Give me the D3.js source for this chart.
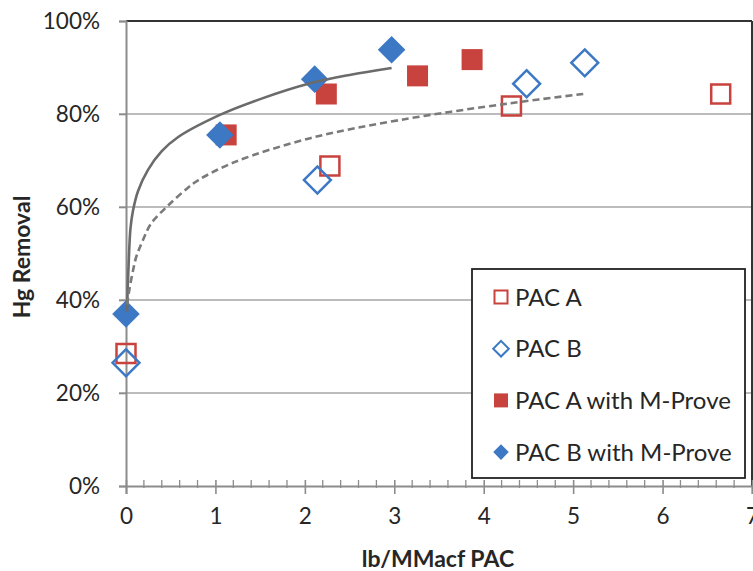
<!DOCTYPE html>
<meta charset="utf-8">
<style>
  body { margin: 0; background: #fff; }
  text { font-family: Lato, "Open Sans", sans-serif; fill: #262626; }
</style>
<body>
<script src="https://cdnjs.cloudflare.com/ajax/libs/d3/7.8.5/d3.min.js"></script>
<script>

// data (x in lb/MMacf, y as fraction removed)
var pacA_x = [0, 2.28, 4.31, 6.65];
var pacA_y = [0.285, 0.688, 0.817, 0.843];

var pacB_x = [0, 2.14, 4.48, 5.13];
var pacB_y = [0.265, 0.658, 0.865, 0.91];

var pacAM_x = [1.12, 2.24, 3.26, 3.87];
var pacAM_y = [0.755, 0.843, 0.882, 0.917];

var pacBM_x = [0, 1.05, 2.11, 2.97];
var pacBM_y = [0.37, 0.755, 0.875, 0.938];

// trend lines, points
var trendSolid_x = [0.012, 0.02, 0.032, 0.05, 0.078, 0.134, 0.246, 0.4, 0.58, 1.05, 1.5, 2.06, 2.5, 2.97];
var trendSolid_y = [0.375, 0.43, 0.49, 0.554, 0.592, 0.634, 0.68, 0.72, 0.75, 0.798, 0.832, 0.866, 0.884, 0.899];

var trendDash_x = [0.016, 0.02, 0.04, 0.078, 0.115, 0.19, 0.283, 0.47, 0.69, 0.81, 1.22, 2.06, 3.06, 4.29, 5.15];
var trendDash_y = [0.39, 0.40, 0.425, 0.463, 0.493, 0.529, 0.565, 0.603, 0.641, 0.658, 0.697, 0.748, 0.787, 0.823, 0.844];

var xTicks = [0, 1, 2, 3, 4, 5, 6, 7];
var yTicks = [0, 0.2, 0.4, 0.6, 0.8, 1.0];
var legendLabels = ["PAC A", "PAC B", "PAC A with M-Prove", "PAC B with M-Prove"];

var red = "#c8423e", blue = "#3c78c4";

var W = 753, H = 571;
var margin = {top: 21, right: 1, bottom: 85, left: 126};
var width = W - margin.left - margin.right,
    height = H - margin.top - margin.bottom;

var x = d3.scaleLinear().domain([0, 7]).range([0, width]);
var y = d3.scaleLinear().domain([0, 1]).range([height, 0]);

var svg = d3.select("body").append("svg")
  .attr("width", W)
  .attr("height", H);
var g = svg.append("g")
  .attr("transform", "translate(" + margin.left + "," + margin.top + ")");

// gridlines
g.selectAll(".grid")
  .data(yTicks.filter(function(d) { return d > 0 && d < 1; }))
  .enter().append("line")
  .attr("x1", -7).attr("x2", width)
  .attr("y1", function(d) { return y(d); })
  .attr("y2", function(d) { return y(d); })
  .attr("stroke", "#a6a6a6").attr("stroke-width", 1.6);

// frame top + right (dark)
g.append("line").attr("x1", 0).attr("x2", width).attr("y1", 0).attr("y2", 0)
  .attr("stroke", "#333").attr("stroke-width", 2);
g.append("line").attr("x1", width).attr("x2", width).attr("y1", 0).attr("y2", height)
  .attr("stroke", "#333").attr("stroke-width", 2);

// y axis
var yAxis = g.append("g")
  .call(d3.axisLeft(y).tickValues(yTicks).tickFormat(d3.format(".0%")).tickSize(7).tickPadding(19));
yAxis.select(".domain").attr("stroke", "#8c8c8c").attr("stroke-width", 2);
yAxis.selectAll(".tick line").attr("stroke", "#8c8c8c").attr("stroke-width", 1.6);
yAxis.selectAll("text").style("font-size", "22.5px").attr("fill", "#2e2e2e");

// x axis with minor ticks
var xAxisG = g.append("g").attr("transform", "translate(0," + height + ")");
var minor = d3.range(0, 70).map(function(i) { return i / 10 * 2; }).filter(function(d) { return d <= 7 && Math.round(d * 10) % 10 !== 0; });
xAxisG.selectAll(".minor")
  .data(minor)
  .enter().append("line")
  .attr("x1", function(d) { return x(d); }).attr("x2", function(d) { return x(d); })
  .attr("y1", -6).attr("y2", 2)
  .attr("stroke", "#8c8c8c").attr("stroke-width", 1.3);
xAxisG.call(d3.axisBottom(x).tickValues(xTicks).tickFormat(d3.format("d")).tickSize(8).tickPadding(14));
xAxisG.select(".domain").attr("stroke", "#8c8c8c").attr("stroke-width", 2);
xAxisG.selectAll(".tick line").attr("stroke", "#8c8c8c").attr("stroke-width", 1.6).attr("y1", -6);
xAxisG.selectAll("text").style("font-size", "22.5px").attr("fill", "#2e2e2e");

// axis titles
svg.append("text")
  .attr("x", 438).attr("y", 567)
  .attr("text-anchor", "middle")
  .style("font-size", "23px").style("font-weight", "bold")
  .text("lb/MMacf PAC");
svg.append("text")
  .attr("transform", "translate(30,257) rotate(-90)")
  .attr("text-anchor", "middle")
  .style("font-size", "23px").style("font-weight", "bold")
  .text("Hg Removal");

function zip(xs, ys) { return xs.map(function(v, i) { return [v, ys[i]]; }); }

var sq = d3.symbol().type(d3.symbolSquare);

// open squares (PAC A)
g.selectAll(".pacA").data(zip(pacA_x, pacA_y)).enter().append("path")
  .attr("d", sq.size(19 * 19))
  .attr("transform", function(d) { return "translate(" + x(d[0]) + "," + y(d[1]) + ")"; })
  .attr("fill", "none").attr("stroke", red).attr("stroke-width", 2.5);

// open diamonds (PAC B)
g.selectAll(".pacB").data(zip(pacB_x, pacB_y)).enter().append("path")
  .attr("d", sq.size(19 * 19))
  .attr("transform", function(d) { return "translate(" + x(d[0]) + "," + y(d[1]) + ") rotate(45)"; })
  .attr("fill", "none").attr("stroke", blue).attr("stroke-width", 2.5);

// filled squares (PAC A with M-Prove)
g.selectAll(".pacAM").data(zip(pacAM_x, pacAM_y)).enter().append("path")
  .attr("d", sq.size(21 * 21))
  .attr("transform", function(d) { return "translate(" + x(d[0]) + "," + y(d[1]) + ")"; })
  .attr("fill", red);

// filled diamonds (PAC B with M-Prove)
g.selectAll(".pacBM").data(zip(pacBM_x, pacBM_y)).enter().append("path")
  .attr("d", sq.size(19.5 * 19.5))
  .attr("transform", function(d) { return "translate(" + x(d[0]) + "," + y(d[1]) + ") rotate(45)"; })
  .attr("fill", blue);

// trend lines
var line = d3.line()
  .x(function(d) { return x(d[0]); })
  .y(function(d) { return y(d[1]); })
  .curve(d3.curveCatmullRom.alpha(0.5));

g.append("path").datum(zip(trendSolid_x, trendSolid_y))
  .attr("d", line).attr("fill", "none")
  .attr("stroke", "#6b6b6b").attr("stroke-width", 2.6);
g.append("path").datum(zip(trendDash_x, trendDash_y))
  .attr("d", line).attr("fill", "none")
  .attr("stroke", "#7a7a7a").attr("stroke-width", 2.6)
  .attr("stroke-dasharray", "7,4");

// legend
var lg = svg.append("g").attr("transform", "translate(472,269)");
lg.append("rect").attr("width", 273).attr("height", 209)
  .attr("fill", "#fff").attr("stroke", "#222").attr("stroke-width", 1.8);

var legendMarks = [
  {d: sq.size(13 * 13)(), rot: 0, fill: "none", stroke: red},
  {d: sq.size(11 * 11)(), rot: 45, fill: "none", stroke: blue},
  {d: sq.size(14 * 14)(), rot: 0, fill: red, stroke: "none"},
  {d: sq.size(11 * 11)(), rot: 45, fill: blue, stroke: "none"}
];
var rows = lg.selectAll(".row").data(legendLabels).enter().append("g")
  .attr("transform", function(d, i) { return "translate(0," + (28 + i * 51.7) + ")"; });
rows.append("path")
  .attr("d", function(d, i) { return legendMarks[i].d; })
  .attr("transform", function(d, i) { return "translate(29,0) rotate(" + legendMarks[i].rot + ")"; })
  .attr("fill", function(d, i) { return legendMarks[i].fill; })
  .attr("stroke", function(d, i) { return legendMarks[i].stroke; })
  .attr("stroke-width", 2);
rows.append("text")
  .attr("x", 43).attr("dy", "0.36em")
  .style("font-size", "24px")
  .attr("fill", "#1e1e1e")
  .text(function(d) { return d; });

</script>
</body>
